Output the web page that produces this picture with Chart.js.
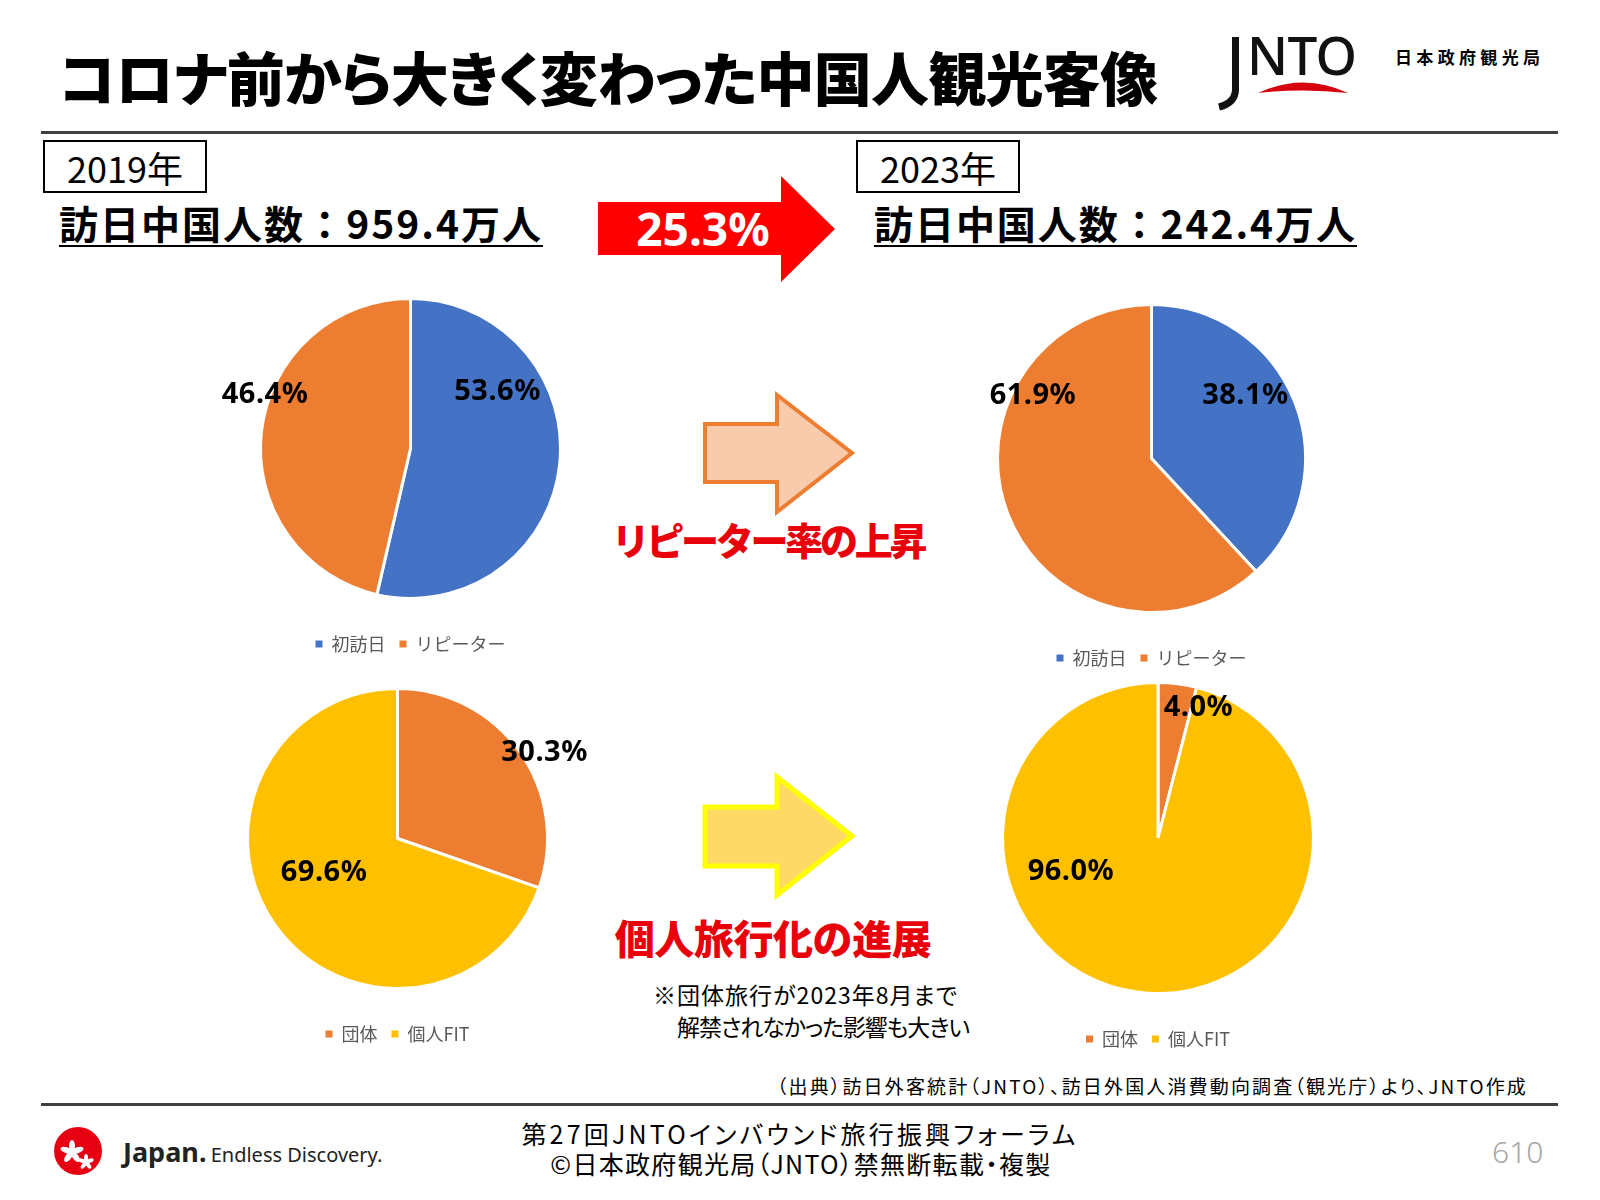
<!DOCTYPE html>
<html lang="ja">
<head>
<meta charset="utf-8">
<title>コロナ前から大きく変わった中国人観光客像</title>
<script src="https://cdn.jsdelivr.net/npm/chart.js@4.4.1/dist/chart.umd.min.js"></script>
<style>
  html, body { margin: 0; padding: 0; background: #fff; }
  body { width: 1600px; height: 1200px; position: relative; overflow: hidden;
         font-family: "Noto Sans CJK JP", "Noto Sans", sans-serif; color: #000; }
  .abs { position: absolute; white-space: nowrap; line-height: 1; }
  .palt { font-feature-settings: "palt"; }
  .rule { position: absolute; left: 41px; width: 1517px; height: 3px; background: #404040; }
  .yearbox { position: absolute; top: 140px; width: 164px; height: 53px; box-sizing: border-box;
             border: 2px solid #000; display: flex; align-items: center; justify-content: center;
             font-size: 36px; line-height: 1; }
  .count { font-size: 39px; font-weight: 700; padding-bottom: 3px; border-bottom: 2px solid #000; }
  .red { color: #E8000B; font-weight: 900; }
  .chartbox { position: absolute; }
</style>
</head>
<body>

<div class="abs palt" data-fit="1099" style="left:59px; top:47px; font-size:58px; font-weight:900;">コロナ前から大きく変わった中国人観光客像</div>

<svg class="abs" style="left:0; top:0;" width="1600" height="120">
  <path d="M1235.5,37 L1235.5,90 Q1235,103 1219,107" fill="none" stroke="#111" stroke-width="7"/>
  <path d="M1258,93 Q1303,72 1348,93 Q1303,88 1258,93 Z" fill="#D7000F"/>
</svg>
<div class="abs" data-fit="110" style="left:1247px; top:28px; font-family:'Noto Sans',sans-serif; font-size:53px; font-weight:500; color:#111;">NTO</div>
<div class="abs" data-fit="145" style="left:1395px; top:48px; font-size:17px; font-weight:700;">日本政府観光局</div>

<div class="rule" style="top:131px;"></div>

<div class="yearbox" style="left:43px;">2019年</div>
<div class="yearbox" style="left:856px;">2023年</div>

<div class="abs count" data-fit="482" style="left:59px; top:203px;">訪日中国人数：959.4万人</div>
<div class="abs count" data-fit="481" style="left:874px; top:203px;">訪日中国人数：242.4万人</div>

<svg class="abs" style="left:0; top:0;" width="1600" height="1000">
  <polygon points="598,202 781,202 781,176 835,229 781,282 781,255 598,255" fill="#FF0000"/>
  <polygon points="705,424 777,424 777,395 852,453 777,512 777,482 705,482" fill="#F8CBAD" stroke="#ED7D31" stroke-width="4" stroke-linejoin="miter"/>
  <polygon points="705,807 777,807 777,777 852,836 777,895 777,866 705,866" fill="#FFD966" stroke="#FFFF00" stroke-width="5" stroke-linejoin="miter"/>
</svg>
<div class="abs" data-cx="703" style="top:205px; font-family:'Noto Sans',sans-serif; font-size:46px; font-weight:700; color:#fff;">25.3%</div>

<div class="abs red" data-fit="316" data-cx="768" style="top:520px; font-size:38px;">リピーター率の上昇</div>
<div class="abs red" data-fit="317" data-cx="773" style="top:917px; font-size:40px;">個人旅行化の進展</div>

<div class="abs palt" data-fit="304" style="left:653px; top:983px; font-size:23px;">※団体旅行が2023年8月まで</div>
<div class="abs palt" data-fit="293" style="left:677px; top:1015px; font-size:23px;">解禁されなかった影響も大きい</div>

<div class="abs palt" data-fit="749" data-right="1528" style="top:1076px; font-size:19px;">（出典）訪日外客統計（JNTO）、訪日外国人消費動向調査（観光庁）より、JNTO作成</div>

<div class="rule" style="top:1103px;"></div>

<svg class="abs" style="left:50px; top:1124px;" width="60" height="60">
  <circle cx="28" cy="27" r="24" fill="#E60012"/>
  <g fill="#fff">
    <ellipse cx="22" cy="22" rx="3" ry="6" transform="rotate(0 22 28)"/>
    <ellipse cx="22" cy="22" rx="3" ry="6" transform="rotate(72 22 28)"/>
    <ellipse cx="22" cy="22" rx="3" ry="6" transform="rotate(144 22 28)"/>
    <ellipse cx="22" cy="22" rx="3" ry="6" transform="rotate(216 22 28)"/>
    <ellipse cx="22" cy="22" rx="3" ry="6" transform="rotate(288 22 28)"/>
    <ellipse cx="36" cy="34" rx="2" ry="4" transform="rotate(0 36 38)"/>
    <ellipse cx="36" cy="34" rx="2" ry="4" transform="rotate(72 36 38)"/>
    <ellipse cx="36" cy="34" rx="2" ry="4" transform="rotate(144 36 38)"/>
    <ellipse cx="36" cy="34" rx="2" ry="4" transform="rotate(216 36 38)"/>
    <ellipse cx="36" cy="34" rx="2" ry="4" transform="rotate(288 36 38)"/>
  </g>
</svg>
<div class="abs" style="left:123px; top:1138px; font-family:'Noto Sans',sans-serif; color:#222;"><b style="font-size:27px;">Japan.</b> <span style="font-size:20px;">Endless Discovery.</span></div>

<div class="abs palt" data-fit="554" data-cx="800" style="top:1121px; font-size:25px;">第27回JNTOインバウンド旅行振興フォーラム</div>
<div class="abs palt" data-fit="500" data-cx="801" style="top:1151px; font-size:25px;">©日本政府観光局（JNTO）禁無断転載・複製</div>
<div class="abs" style="left:1492px; top:1137px; font-family:'Noto Sans',sans-serif; font-size:30px; font-weight:300; color:#A6A6A6;">610</div>

<script>
// data
const repeatLabels = ['初訪日', 'リピーター'];
const repeat2019 = [53.6, 46.4];
const repeat2023 = [38.1, 61.9];
const repeatColors = ['#4472C4', '#ED7D31'];

const tourLabels = ['団体', '個人FIT'];
const tour2019 = [30.3, 69.6];
const tour2023 = [4.0, 96.0];
const tourColors = ['#ED7D31', '#FFC000'];

// where each % label sits, in units of the pie radius from the centre
const spotsRepeat2019 = [[0.58, -0.38], [-0.97, -0.36]];
const spotsRepeat2023 = [[0.61, -0.41], [-0.77, -0.41]];
const spotsTour2019   = [[0.98, -0.57], [-0.49, 0.23]];
const spotsTour2023   = [[0.26, -0.84], [-0.56, 0.22]];

// fit text widths to the slide
document.querySelectorAll('[data-fit]').forEach(el => {
    const target = +el.dataset.fit;
    const n = [...el.textContent].length;
    const w = el.getBoundingClientRect().width;
    el.style.letterSpacing = ((target - w) / (n - 1)) + 'px';
});
document.querySelectorAll('[data-cx]').forEach(el => {
    const w = el.getBoundingClientRect().width;
    el.style.left = (+el.dataset.cx - w / 2) + 'px';
});
document.querySelectorAll('[data-right]').forEach(el => {
    const w = el.getBoundingClientRect().width;
    el.style.left = (+el.dataset.right - w) + 'px';
});

const pctLabels = {
    id: 'pctLabels',
    afterDatasetsDraw(chart, args, opts) {
        const ctx = chart.ctx;
        const meta = chart.getDatasetMeta(0);
        const values = chart.data.datasets[0].data;
        ctx.save();
        ctx.font = 'bold 29px "Noto Sans", "Noto Sans CJK JP", sans-serif';
        ctx.letterSpacing = '0.5px';
        ctx.fillStyle = '#000';
        ctx.textAlign = 'center';
        ctx.textBaseline = 'middle';
        meta.data.forEach((arc, i) => {
            const s = opts.spots[i];
            ctx.fillText(values[i].toFixed(1) + '%', arc.x + s[0] * arc.outerRadius, arc.y + s[1] * arc.outerRadius);
        });
        ctx.restore();
    }
};

// legend squares without the white slice border
legendItems = (chart) => {
    return Chart.overrides.pie.plugins.legend.labels.generateLabels(chart)
        .map(item => Object.assign(item, { lineWidth: 0 }));
}

pieChart = (cx, cy, r, labels, values, colors, spots) => {
    const padX = 80, legendFont = 18, legendPad = 14, bw = 3;
    const gap = 44 - legendPad - legendFont / 2;
    const legendH = legendFont + legendPad + 10;
    const w = 2 * r + bw + 2 * padX;
    const h = 2 * r + bw + 2 * gap + legendH;

    const box = document.createElement('div');
    box.className = 'chartbox';
    box.style.left = (cx - w / 2) + 'px';
    box.style.top = (cy - r - bw / 2 - gap) + 'px';
    box.style.width = w + 'px';
    box.style.height = h + 'px';
    const canvas = document.createElement('canvas');
    canvas.width = w;
    canvas.height = h;
    box.appendChild(canvas);
    document.body.appendChild(box);

    new Chart(canvas, {
        type: 'pie',
        data: {
            labels: labels,
            datasets: [{
                data: values,
                backgroundColor: colors,
                borderColor: '#ffffff',
                borderWidth: bw
            }]
        },
        options: {
            responsive: false,
            animation: false,
            events: [],
            layout: { padding: { left: padX, right: padX, top: 0, bottom: 0 } },
            plugins: {
                tooltip: { enabled: false },
                legend: {
                    position: 'bottom',
                    labels: {
                        boxWidth: 7,
                        boxHeight: 7,
                        padding: legendPad,
                        color: '#595959',
                        font: { size: legendFont, family: '"Noto Sans CJK JP", sans-serif' },
                        generateLabels: legendItems
                    }
                },
                pctLabels: { spots: spots }
            }
        },
        plugins: [pctLabels]
    });
}

pieChart(410, 448.5, 150, repeatLabels, repeat2019, repeatColors, spotsRepeat2019);
pieChart(1151.5, 458, 154, repeatLabels, repeat2023, repeatColors, spotsRepeat2023);
pieChart(397, 838, 150, tourLabels, tour2019, tourColors, spotsTour2019);
pieChart(1157.5, 837.5, 155.5, tourLabels, tour2023, tourColors, spotsTour2023);
</script>
</body>
</html>
